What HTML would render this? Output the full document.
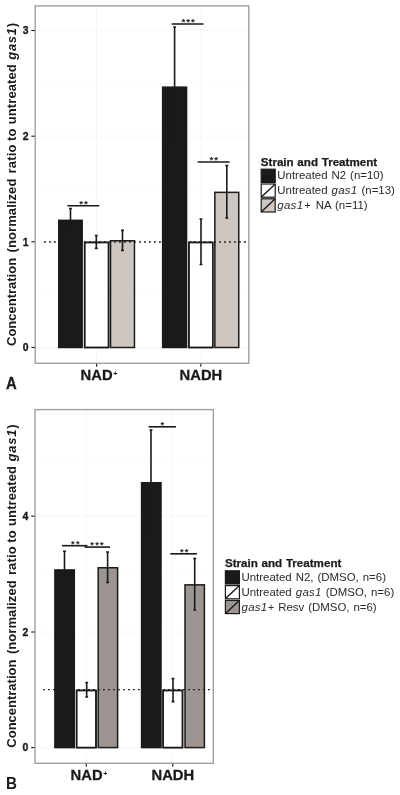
<!DOCTYPE html>
<html lang="en">
<head>
<meta charset="utf-8">
<title>Figure: NAD+ and NADH concentrations</title>
<style>
html,body{margin:0;padding:0;background:#ffffff;}
body{width:400px;height:795px;overflow:hidden;}
svg{display:block;will-change:transform;font-family:"Liberation Sans",Arial,Helvetica,sans-serif;}
</style>
</head>
<body>
<svg width="400" height="795" viewBox="0 0 400 795">
<rect x="0" y="0" width="400" height="795" fill="#ffffff"/>
<g id="panelA">
<rect x="35.2" y="5.9" width="213.60000000000002" height="357.40000000000003" fill="#ffffff"/>
<line x1="35.2" x2="248.8" y1="83.3" y2="83.3" stroke="#fbfbfb" stroke-width="1"/>
<line x1="35.2" x2="248.8" y1="189.0" y2="189.0" stroke="#fbfbfb" stroke-width="1"/>
<line x1="35.2" x2="248.8" y1="294.7" y2="294.7" stroke="#fbfbfb" stroke-width="1"/>
<line x1="35.2" x2="248.8" y1="30.5" y2="30.5" stroke="#f6f6f6" stroke-width="1"/>
<line x1="35.2" x2="248.8" y1="136.2" y2="136.2" stroke="#f6f6f6" stroke-width="1"/>
<line x1="35.2" x2="248.8" y1="241.8" y2="241.8" stroke="#f6f6f6" stroke-width="1"/>
<line x1="35.2" x2="248.8" y1="347.5" y2="347.5" stroke="#f6f6f6" stroke-width="1"/>
<line x1="96.6" x2="96.6" y1="5.9" y2="363.3" stroke="#f6f6f6" stroke-width="1"/>
<line x1="200.8" x2="200.8" y1="5.9" y2="363.3" stroke="#f6f6f6" stroke-width="1"/>
<rect x="58.75" y="220.35" width="23.40" height="127.15" fill="#1b1a18" stroke="#1b1a18" stroke-width="1.5"/>
<rect x="84.65" y="242.45" width="23.90" height="105.05" fill="#ffffff" stroke="#1b1a18" stroke-width="1.5"/>
<rect x="110.55" y="240.75" width="23.90" height="106.75" fill="#cec6c0" stroke="#1b1a18" stroke-width="1.5"/>
<rect x="162.65" y="87.15" width="23.90" height="260.35" fill="#1b1a18" stroke="#1b1a18" stroke-width="1.5"/>
<rect x="188.85" y="242.45" width="23.90" height="105.05" fill="#ffffff" stroke="#1b1a18" stroke-width="1.5"/>
<rect x="214.85" y="192.35" width="23.90" height="155.15" fill="#cec6c0" stroke="#1b1a18" stroke-width="1.5"/>
<line x1="44" x2="247.8" y1="242.0" y2="242.0" stroke="#1b1a18" stroke-width="1.3" stroke-dasharray="1.8 3.2"/>
<rect x="84.65" y="242.45" width="23.90" height="105.05" fill="none" stroke="#1b1a18" stroke-width="1.5"/>
<rect x="188.85" y="242.45" width="23.90" height="105.05" fill="none" stroke="#1b1a18" stroke-width="1.5"/>
<path d="M70.50 208.50V230.70M69.05 208.50h2.9M69.05 230.70h2.9" fill="none" stroke="#1b1a18" stroke-width="1.6"/>
<path d="M96.30 235.50V248.40M94.85 235.50h2.9M94.85 248.40h2.9" fill="none" stroke="#1b1a18" stroke-width="1.6"/>
<path d="M122.50 230.40V250.50M121.05 230.40h2.9M121.05 250.50h2.9" fill="none" stroke="#1b1a18" stroke-width="1.6"/>
<path d="M174.60 27.00V145.80M173.15 27.00h2.9M173.15 145.80h2.9" fill="none" stroke="#1b1a18" stroke-width="1.6"/>
<path d="M201.00 219.00V264.50M199.55 219.00h2.9M199.55 264.50h2.9" fill="none" stroke="#1b1a18" stroke-width="1.6"/>
<path d="M226.80 165.50V218.00M225.35 165.50h2.9M225.35 218.00h2.9" fill="none" stroke="#1b1a18" stroke-width="1.6"/>
<line x1="67.4" y1="205.8" x2="99.3" y2="205.8" stroke="#1b1a18" stroke-width="1.6"/><text x="84.0" y="207.2" font-size="9.8" font-weight="bold" letter-spacing="1.0" text-anchor="middle" fill="#1b1a18">**</text>
<line x1="171.7" y1="24.0" x2="203.5" y2="24.0" stroke="#1b1a18" stroke-width="1.6"/><text x="188.7" y="25.35" font-size="9.8" font-weight="bold" letter-spacing="1.0" text-anchor="middle" fill="#1b1a18">***</text>
<line x1="197.6" y1="162.0" x2="229.6" y2="162.0" stroke="#1b1a18" stroke-width="1.6"/><text x="214.3" y="162.8" font-size="9.8" font-weight="bold" letter-spacing="1.0" text-anchor="middle" fill="#1b1a18">**</text>
<rect x="35.2" y="5.9" width="213.60000000000002" height="357.40000000000003" fill="none" stroke="#a0a0a0" stroke-width="1.4"/>
<line x1="31.400000000000002" x2="34.800000000000004" y1="30.5" y2="30.5" stroke="#1b1a18" stroke-width="1.1"/>
<text x="28.500000000000004" y="34.2" font-size="10.4" font-weight="bold" text-anchor="end" fill="#1b1a18" stroke="#1b1a18" stroke-width="0.35">3</text>
<line x1="31.400000000000002" x2="34.800000000000004" y1="136.2" y2="136.2" stroke="#1b1a18" stroke-width="1.1"/>
<text x="28.500000000000004" y="139.89999999999998" font-size="10.4" font-weight="bold" text-anchor="end" fill="#1b1a18" stroke="#1b1a18" stroke-width="0.35">2</text>
<line x1="31.400000000000002" x2="34.800000000000004" y1="241.8" y2="241.8" stroke="#1b1a18" stroke-width="1.1"/>
<text x="28.500000000000004" y="245.5" font-size="10.4" font-weight="bold" text-anchor="end" fill="#1b1a18" stroke="#1b1a18" stroke-width="0.35">1</text>
<line x1="31.400000000000002" x2="34.800000000000004" y1="347.5" y2="347.5" stroke="#1b1a18" stroke-width="1.1"/>
<text x="28.500000000000004" y="351.2" font-size="10.4" font-weight="bold" text-anchor="end" fill="#1b1a18" stroke="#1b1a18" stroke-width="0.35">0</text>
<line x1="96.6" x2="96.6" y1="363.7" y2="366.7" stroke="#1b1a18" stroke-width="1.1"/>
<line x1="200.8" x2="200.8" y1="363.7" y2="366.7" stroke="#1b1a18" stroke-width="1.1"/>
<text x="80.6" y="380.2" font-size="14.75" font-weight="bold" fill="#1b1a18" stroke="#1b1a18" stroke-width="0.3">NAD<tspan font-size="7" dy="-4.6" dx="0.8" stroke="none">+</tspan></text><text x="200.9" y="380.2" font-size="14.75" font-weight="bold" text-anchor="middle" fill="#1b1a18" stroke="#1b1a18" stroke-width="0.3">NADH</text>
<text transform="translate(16.4 346) rotate(-90)" font-size="13" font-weight="bold" fill="#1b1a18"><tspan x="0">Concentration </tspan><tspan x="93.6" letter-spacing="0.08">(normalized </tspan><tspan x="172.6" letter-spacing="0.15">ratio </tspan><tspan x="205.0" letter-spacing="0.2">to </tspan><tspan x="221.8" letter-spacing="0.08">untreated </tspan><tspan x="286.2" letter-spacing="0.75"><tspan font-style="italic">gas1</tspan>)</tspan></text>
<text transform="translate(6 388.6) scale(0.89 1)" font-size="16.7" font-weight="bold" fill="#1b1a18" stroke="#1b1a18" stroke-width="0.3">A</text>
<text x="260.8" y="165.7" font-size="11.6" word-spacing="0.5" font-weight="bold" fill="#1b1a18" stroke="#1b1a18" stroke-width="0.25">Strain and Treatment</text>
<rect x="261.20000000000005" y="169.2" width="14.0" height="13.200000000000001" fill="#1b1a18" stroke="#1b1a18" stroke-width="1.2"/>
<line x1="261.40000000000003" y1="182.20000000000002" x2="275.00000000000006" y2="169.4" stroke="#1b1a18" stroke-width="1.4"/>
<text x="277.3" y="179.29999999999998" font-size="11.45" word-spacing="0.8" fill="#2a2a2a">Untreated N2 (n=10)</text>
<rect x="261.20000000000005" y="184.0" width="14.0" height="13.200000000000001" fill="#ffffff" stroke="#1b1a18" stroke-width="1.2"/>
<line x1="261.40000000000003" y1="197.00000000000003" x2="275.00000000000006" y2="184.20000000000002" stroke="#1b1a18" stroke-width="1.4"/>
<text x="277.3" y="194.1" font-size="11.45" word-spacing="0.8" fill="#2a2a2a">Untreated <tspan font-style="italic" letter-spacing="0.3">gas1</tspan> (n=13)</text>
<rect x="261.20000000000005" y="198.79999999999998" width="14.0" height="13.200000000000001" fill="#cec6c0" stroke="#1b1a18" stroke-width="1.2"/>
<line x1="261.40000000000003" y1="211.8" x2="275.00000000000006" y2="199.0" stroke="#1b1a18" stroke-width="1.4"/>
<text x="277.3" y="208.89999999999998" font-size="11.45" word-spacing="0.8" fill="#2a2a2a"><tspan font-style="italic" letter-spacing="0.3">gas1</tspan><tspan dx="1.2" font-size="10.5">+</tspan><tspan dx="1.2"> NA (n=11)</tspan></text>
</g>
<g id="panelB">
<rect x="35" y="409.6" width="178.3" height="353.69999999999993" fill="#ffffff"/>
<line x1="35" x2="213.3" y1="458.4" y2="458.4" stroke="#fbfbfb" stroke-width="1"/>
<line x1="35" x2="213.3" y1="574.1" y2="574.1" stroke="#fbfbfb" stroke-width="1"/>
<line x1="35" x2="213.3" y1="689.8" y2="689.8" stroke="#fbfbfb" stroke-width="1"/>
<line x1="35" x2="213.3" y1="516.2" y2="516.2" stroke="#f6f6f6" stroke-width="1"/>
<line x1="35" x2="213.3" y1="632" y2="632" stroke="#f6f6f6" stroke-width="1"/>
<line x1="35" x2="213.3" y1="747.6" y2="747.6" stroke="#f6f6f6" stroke-width="1"/>
<line x1="86.3" x2="86.3" y1="409.6" y2="763.3" stroke="#f6f6f6" stroke-width="1"/>
<line x1="172.7" x2="172.7" y1="409.6" y2="763.3" stroke="#f6f6f6" stroke-width="1"/>
<rect x="54.90" y="569.95" width="19.40" height="177.65" fill="#1b1a18" stroke="#1b1a18" stroke-width="1.5"/>
<rect x="76.60" y="690.45" width="19.40" height="57.15" fill="#ffffff" stroke="#1b1a18" stroke-width="1.5"/>
<rect x="98.20" y="567.75" width="19.40" height="179.85" fill="#9c9591" stroke="#1b1a18" stroke-width="1.5"/>
<rect x="141.60" y="482.75" width="19.40" height="264.85" fill="#1b1a18" stroke="#1b1a18" stroke-width="1.5"/>
<rect x="163.10" y="690.45" width="19.40" height="57.15" fill="#ffffff" stroke="#1b1a18" stroke-width="1.5"/>
<rect x="185.00" y="584.85" width="19.40" height="162.75" fill="#9c9591" stroke="#1b1a18" stroke-width="1.5"/>
<line x1="43" x2="212.3" y1="689.7" y2="689.7" stroke="#1b1a18" stroke-width="1.3" stroke-dasharray="1.8 3.2"/>
<rect x="76.60" y="690.45" width="19.40" height="57.15" fill="none" stroke="#1b1a18" stroke-width="1.5"/>
<rect x="163.10" y="690.45" width="19.40" height="57.15" fill="none" stroke="#1b1a18" stroke-width="1.5"/>
<path d="M64.50 551.20V587.50M63.05 551.20h2.9M63.05 587.50h2.9" fill="none" stroke="#1b1a18" stroke-width="1.6"/>
<path d="M86.70 682.50V697.00M85.25 682.50h2.9M85.25 697.00h2.9" fill="none" stroke="#1b1a18" stroke-width="1.6"/>
<path d="M107.60 552.00V582.50M106.15 552.00h2.9M106.15 582.50h2.9" fill="none" stroke="#1b1a18" stroke-width="1.6"/>
<path d="M151.00 430.00V533.00M149.55 430.00h2.9M149.55 533.00h2.9" fill="none" stroke="#1b1a18" stroke-width="1.6"/>
<path d="M173.00 678.50V701.60M171.55 678.50h2.9M171.55 701.60h2.9" fill="none" stroke="#1b1a18" stroke-width="1.6"/>
<path d="M194.70 558.50V610.00M193.25 558.50h2.9M193.25 610.00h2.9" fill="none" stroke="#1b1a18" stroke-width="1.6"/>
<line x1="62" y1="545.7" x2="87.5" y2="545.7" stroke="#1b1a18" stroke-width="1.6"/><text x="76.0" y="547.2" font-size="9.4" font-weight="bold" letter-spacing="1.25" text-anchor="middle" fill="#1b1a18">**</text>
<line x1="84.5" y1="547.1" x2="110" y2="547.1" stroke="#1b1a18" stroke-width="1.6"/><text x="97.6" y="548.0" font-size="9.4" font-weight="bold" letter-spacing="1.25" text-anchor="middle" fill="#1b1a18">***</text>
<line x1="148.5" y1="426.8" x2="176" y2="426.8" stroke="#1b1a18" stroke-width="1.6"/><text x="163.0" y="428.0" font-size="9.4" font-weight="bold" letter-spacing="1.25" text-anchor="middle" fill="#1b1a18">*</text>
<line x1="170.2" y1="553.8" x2="196.9" y2="553.8" stroke="#1b1a18" stroke-width="1.6"/><text x="184.8" y="555.3" font-size="9.4" font-weight="bold" letter-spacing="1.25" text-anchor="middle" fill="#1b1a18">**</text>
<rect x="35" y="409.6" width="178.3" height="353.69999999999993" fill="none" stroke="#a0a0a0" stroke-width="1.4"/>
<line x1="31.2" x2="34.6" y1="516.2" y2="516.2" stroke="#1b1a18" stroke-width="1.1"/>
<text x="28.3" y="519.9000000000001" font-size="10.4" font-weight="bold" text-anchor="end" fill="#1b1a18" stroke="#1b1a18" stroke-width="0.35">4</text>
<line x1="31.2" x2="34.6" y1="632" y2="632" stroke="#1b1a18" stroke-width="1.1"/>
<text x="28.3" y="635.7" font-size="10.4" font-weight="bold" text-anchor="end" fill="#1b1a18" stroke="#1b1a18" stroke-width="0.35">2</text>
<line x1="31.2" x2="34.6" y1="747.6" y2="747.6" stroke="#1b1a18" stroke-width="1.1"/>
<text x="28.3" y="751.3000000000001" font-size="10.4" font-weight="bold" text-anchor="end" fill="#1b1a18" stroke="#1b1a18" stroke-width="0.35">0</text>
<line x1="86.3" x2="86.3" y1="763.6999999999999" y2="766.6999999999999" stroke="#1b1a18" stroke-width="1.1"/>
<line x1="172.8" x2="172.8" y1="763.6999999999999" y2="766.6999999999999" stroke="#1b1a18" stroke-width="1.1"/>
<text x="70.6" y="780.4" font-size="14.75" font-weight="bold" fill="#1b1a18" stroke="#1b1a18" stroke-width="0.3">NAD<tspan font-size="7" dy="-4.6" dx="0.8" stroke="none">+</tspan></text><text x="172.8" y="780.4" font-size="14.75" font-weight="bold" text-anchor="middle" fill="#1b1a18" stroke="#1b1a18" stroke-width="0.3">NADH</text>
<text transform="translate(16.4 747.7) rotate(-90)" font-size="13" font-weight="bold" fill="#1b1a18"><tspan x="0">Concentration </tspan><tspan x="93.6" letter-spacing="0.08">(normalized </tspan><tspan x="172.6" letter-spacing="0.15">ratio </tspan><tspan x="205.0" letter-spacing="0.2">to </tspan><tspan x="221.8" letter-spacing="0.08">untreated </tspan><tspan x="286.2" letter-spacing="0.75"><tspan font-style="italic">gas1</tspan>)</tspan></text>
<text transform="translate(6.0 788.8) scale(0.94 1)" font-size="16.2" font-weight="bold" fill="#1b1a18" stroke="#1b1a18" stroke-width="0">B</text>
<text x="225.0" y="567.3000000000001" font-size="11.6" word-spacing="0.5" font-weight="bold" fill="#1b1a18" stroke="#1b1a18" stroke-width="0.25">Strain and Treatment</text>
<rect x="225.4" y="570.8000000000001" width="14.0" height="13.200000000000001" fill="#1b1a18" stroke="#1b1a18" stroke-width="1.2"/>
<line x1="225.60000000000002" y1="583.8" x2="239.20000000000002" y2="571.0" stroke="#1b1a18" stroke-width="1.4"/>
<text x="241.5" y="580.9000000000001" font-size="11.45" word-spacing="0.8" fill="#2a2a2a">Untreated N2, (DMSO, n=6)</text>
<rect x="225.4" y="585.6" width="14.0" height="13.200000000000001" fill="#ffffff" stroke="#1b1a18" stroke-width="1.2"/>
<line x1="225.60000000000002" y1="598.5999999999999" x2="239.20000000000002" y2="585.8" stroke="#1b1a18" stroke-width="1.4"/>
<text x="241.5" y="595.7" font-size="11.45" word-spacing="0.8" fill="#2a2a2a">Untreated <tspan font-style="italic" letter-spacing="0.3">gas1</tspan> (DMSO, n=6)</text>
<rect x="225.4" y="600.4000000000001" width="14.0" height="13.200000000000001" fill="#9c9591" stroke="#1b1a18" stroke-width="1.2"/>
<line x1="225.60000000000002" y1="613.4" x2="239.20000000000002" y2="600.6" stroke="#1b1a18" stroke-width="1.4"/>
<text x="241.5" y="610.5000000000001" font-size="11.45" word-spacing="0.8" fill="#2a2a2a"><tspan font-style="italic" letter-spacing="0.3">gas1</tspan><tspan dx="0.5" font-size="10.5">+</tspan> Resv (DMSO, n=6)</text>
</g>
</svg>
</body>
</html>
